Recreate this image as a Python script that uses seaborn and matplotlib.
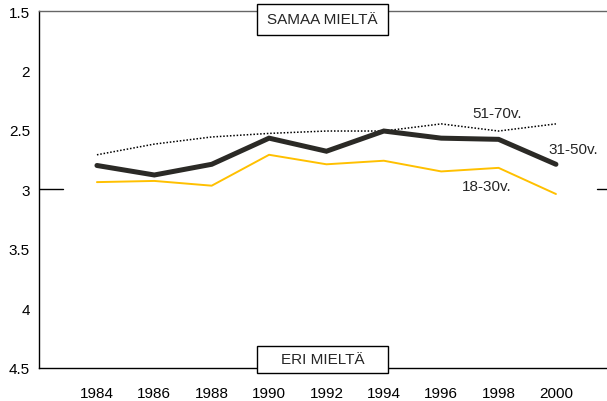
import matplotlib
matplotlib.use("Agg")
import matplotlib.pyplot as plt
from matplotlib.patches import Rectangle
import seaborn as sns
import pandas as pd

years = [1984, 1986, 1988, 1990, 1992, 1994, 1996, 1998, 2000]
age_51_70 = [2.71, 2.62, 2.56, 2.53, 2.51, 2.51, 2.45, 2.51, 2.45]
age_31_50 = [2.80, 2.88, 2.79, 2.57, 2.68, 2.51, 2.57, 2.58, 2.79]
age_18_30 = [2.94, 2.93, 2.97, 2.71, 2.79, 2.76, 2.85, 2.82, 3.04]
y_ticks = [1.5, 2, 2.5, 3, 3.5, 4, 4.5]
y_tick_labels = ["1.5", "2", "2.5", "3", "3.5", "4", "4.5"]

sns.set_style("white")
plt.rcParams['font.family'] = ['Liberation Sans', 'DejaVu Sans']

W, H = 607, 402
fig = plt.figure(figsize=(W/100, H/100), dpi=100)
ax = fig.add_axes([39/W, 1-368.5/H, 1-39/W, (368.5-12)/H])

df = pd.DataFrame({"year": years, "a": age_51_70, "b": age_31_50, "c": age_18_30})
sns.lineplot(data=df, x="year", y="a", ax=ax, color="black", lw=1.1,
             linestyle=(0, (1, 1.2)))
sns.lineplot(data=df, x="year", y="b", ax=ax, color="#2b2a26", lw=3.6,
             solid_capstyle="round", solid_joinstyle="miter")
sns.lineplot(data=df, x="year", y="c", ax=ax, color="#FFC000", lw=1.4)

ax.set_xlim(1981.98, 2001.78)
ax.set_ylim(4.5, 1.5)
ax.set_yticks(y_ticks)
ax.set_yticklabels(y_tick_labels, fontsize=11)
ax.set_xticks(years)
ax.set_xticklabels([str(y) for y in years], fontsize=11)
ax.tick_params(axis="y", direction="out", length=4.5, width=1, colors="black", pad=2)
ax.tick_params(axis="x", length=0, pad=13, colors="black")
ax.set_xlabel("")
ax.set_ylabel("")

for s in ["left", "bottom", "top"]:
    ax.spines[s].set_color("black")
    ax.spines[s].set_linewidth(1.0)
ax.spines["top"].set_color("#666666")
ax.spines["right"].set_visible(False)

ax.axhline(3, xmin=0.0, xmax=0.042, color="black", lw=1)
ax.axhline(3, xmin=0.982, xmax=1.0, color="black", lw=1)

ax.text(1997.94, 2.36, "51-70v.", fontsize=11, ha="center", va="center")
ax.text(2000.6, 2.66, "31-50v.", fontsize=11, ha="center", va="center")
ax.text(1997.6, 2.97, "18-30v.", fontsize=11, ha="center", va="center")

for (x0, y0, x1, y1, label) in [(257, 5, 388, 36, "SAMAA MIELTÄ"),
                                (257, 347, 388, 374, "ERI MIELTÄ")]:
    fig.patches.append(Rectangle((x0/W, 1-y1/H), (x1-x0)/W, (y1-y0)/H,
                                 transform=fig.transFigure, fc="white",
                                 ec="black", lw=1, zorder=10))
    fig.text((x0+x1)/2/W, 1-(y0+y1)/2/H, label, fontsize=11, ha="center",
             va="center", zorder=11)

fig.savefig("out.png", dpi=100)
